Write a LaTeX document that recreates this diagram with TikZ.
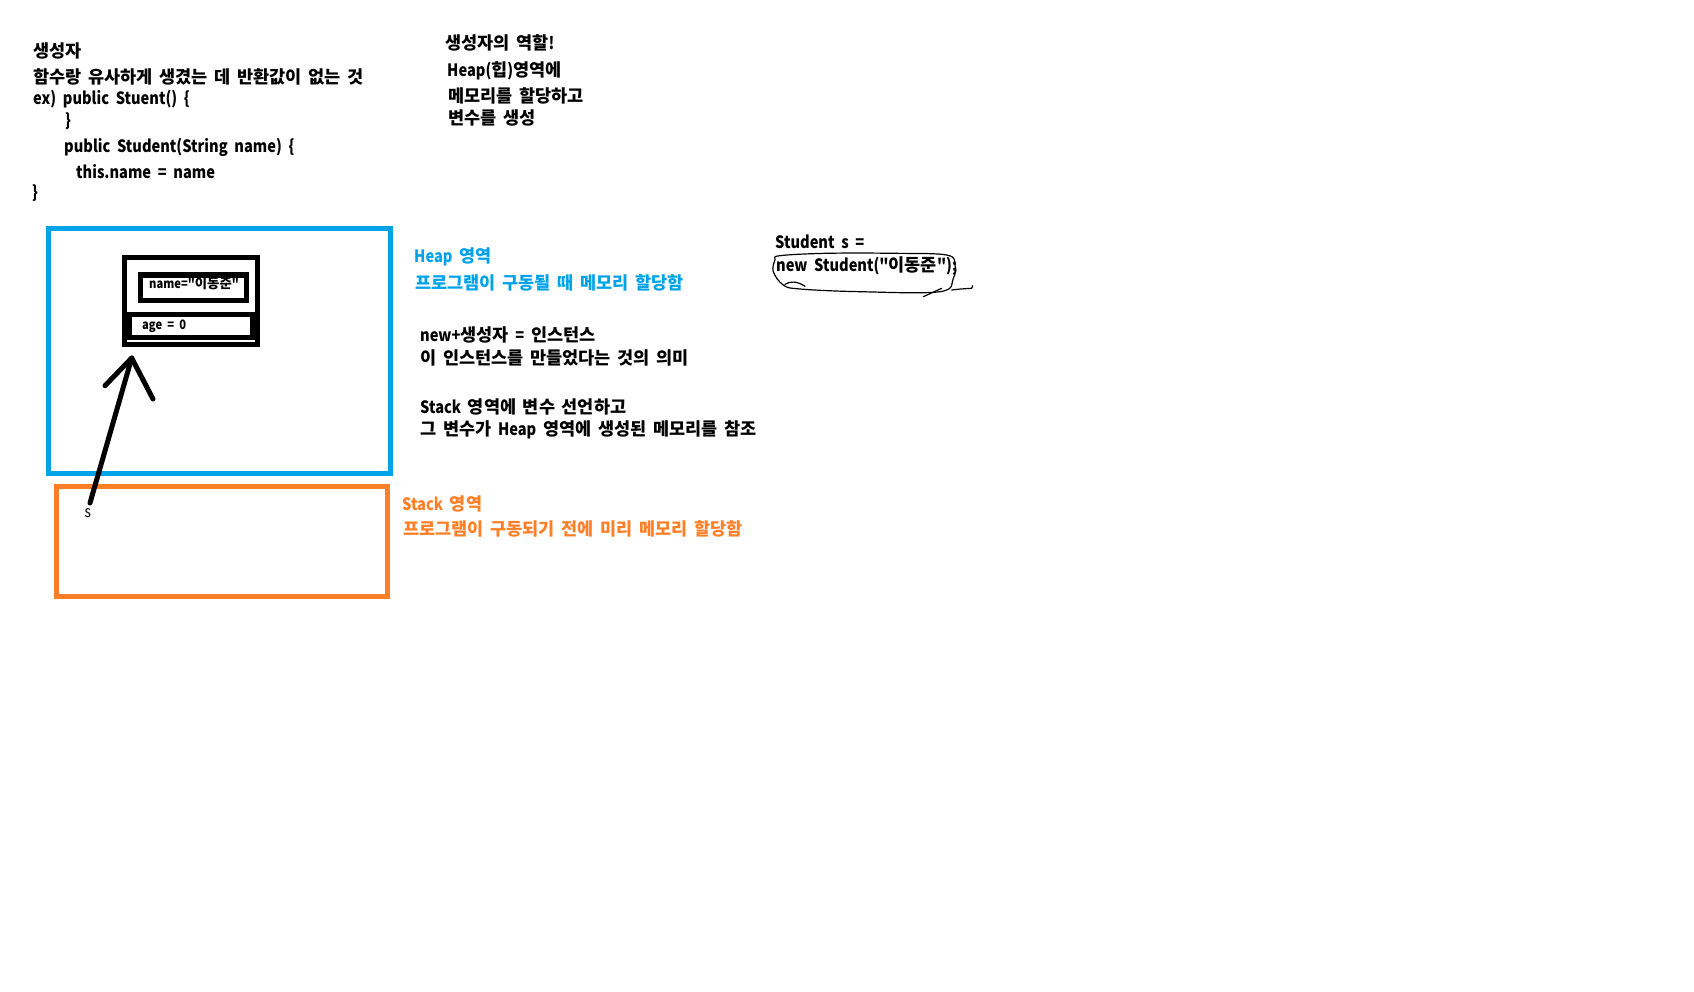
\documentclass[tikz,border=0pt]{standalone}
\usepackage{fontspec}
\setmainfont{Noto Sans CJK KR}[Ligatures=TeXOff, FakeStretch=0.86, WordSpace=2.0]
\newfontfamily\krfont{Noto Sans CJK KR}[Ligatures=TeXOff, Scale=1.03]
% hangul syllables are set in an unstretched face, latin in a condensed one
\XeTeXinterchartokenstate=1
\newXeTeXintercharclass\hangulclass
\newcount\hcnt
\hcnt="AC00
\loop\ifnum\hcnt<"D7A4 \XeTeXcharclass\hcnt=\hangulclass \advance\hcnt by 1 \repeat
\XeTeXinterchartoks 0 \hangulclass = {\begingroup\krfont}
\XeTeXinterchartoks 4095 \hangulclass = {\begingroup\krfont}
\XeTeXinterchartoks \hangulclass 0 = {\endgroup}
\XeTeXinterchartoks \hangulclass 4095 = {\endgroup}
\definecolor{pblue}{RGB}{0,162,232}
\definecolor{porange}{RGB}{255,127,39}
\begin{document}
\begin{tikzpicture}[x=1pt,y=-1pt,
  txt/.style={anchor=base west, inner sep=0pt, font=\fontsize{17}{20}\selectfont\bfseries},
  smalltxt/.style={anchor=base west, inner sep=0pt, font=\fontsize{13}{15}\selectfont\bfseries},
  bluetxt/.style={txt, text=pblue},
  orangetxt/.style={txt, text=porange},
  area/.style={line width=5},
  objbox/.style={line width=5, black},
  pen/.style={line width=5, line cap=round, line join=round},
  thinpen/.style={line width=1.2, line cap=round, line join=round}]
\fill[white] (0,0) rectangle (1694,992);
\useasboundingbox (0,0) rectangle (1694,992);

% top-left notes
\node[txt] (t1) at (33,58) {생성자};
\node[txt] (t2) at (33,84) {함수랑 유사하게 생겼는 데 반환값이 없는 것};
\node[txt] (t3) at (33,105) {ex) public Stuent() \{};
\node[txt] (t4) at (65,127) {\}};
\node[txt] (t5) at (64,153) {public Student(String name) \{};
\node[txt] (t6) at (76,179) {this.name = name};
\node[txt] (t7) at (32,199) {\}};

% top-middle notes
\node[txt] (r1) at (445,50) {생성자의 역할!};
\node[txt] (r2) at (447,77) {Heap(힙)영역에};
\node[txt] (r3) at (448,103) {메모리를 할당하고};
\node[txt] (r4) at (448,125) {변수를 생성};

% areas
\draw[area, pblue] (48.5,229) rectangle (390.5,473.5);
\draw[area, porange] (56.5,486.5) rectangle (387.5,596);

% object in heap
\draw[objbox] (124.2,257.5) rectangle (257.5,344.2);
\draw[objbox, line width=5.5] (140.3,275) rectangle (246.7,300.5);
\draw[objbox] (129.7,314.2) rectangle (252,337.2);
\node[smalltxt] (nm) at (149,289) {name="이동준"};
\node[smalltxt] (ag) at (142,329.5) {age = 0};

% labels
\node[bluetxt] (hl) at (414,263) {Heap 영역};
\node[bluetxt] (hd) at (415,290) {프로그램이 구동될 때 메모리 할당함};
\node[txt] (n1) at (420,341) {new+생성자 = 인스턴스};
\node[txt] (n2) at (420,364) {이 인스턴스를 만들었다는 것의 의미};
\node[txt] (n3) at (420,413) {Stack 영역에 변수 선언하고};
\node[txt] (n4) at (420,435) {그 변수가 Heap 영역에 생성된 메모리를 참조};
\node[orangetxt] (sl) at (402,510) {Stack 영역};
\node[orangetxt] (sd) at (403,535) {프로그램이 구동되기 전에 미리 메모리 할당함};

% variable s and reference arrow
\node[txt, font=\fontsize{16}{18}\selectfont] (s) at (84.5,517) {s};
\coordinate (sb) at (90,503);
\coordinate (tip) at (131.7,358);
\coordinate (al) at (105,385.7);
\coordinate (ar) at (153,399);
\draw[pen] (sb) -- (tip);
\draw[pen] (al) -- (tip) -- (ar);

% code on the right
\node[txt] (c1) at (775,249) {Student s =};
\node[txt] (c2) at (776,272) {new Student("이동준");};
\draw[thinpen] plot[smooth cycle, tension=0.6] coordinates {
  (780,255.7) (826.7,253.3) (893.3,253.3) (946.7,255) (955,265)
  (953.3,278.3) (940,291.7) (860,291.7) (800,289) (783.3,285)
  (773.3,271.7) (775,260)};
\draw[thinpen] (785,284.3) .. controls (790,281) and (797,281) .. (805,286.3);
\draw[thinpen] (923.3,296.7) -- (941.7,288.3);
\draw[thinpen] (951.7,290) .. controls (960,289) .. (971.7,288.3) -- (972.7,285.7);
\end{tikzpicture}
\end{document}
